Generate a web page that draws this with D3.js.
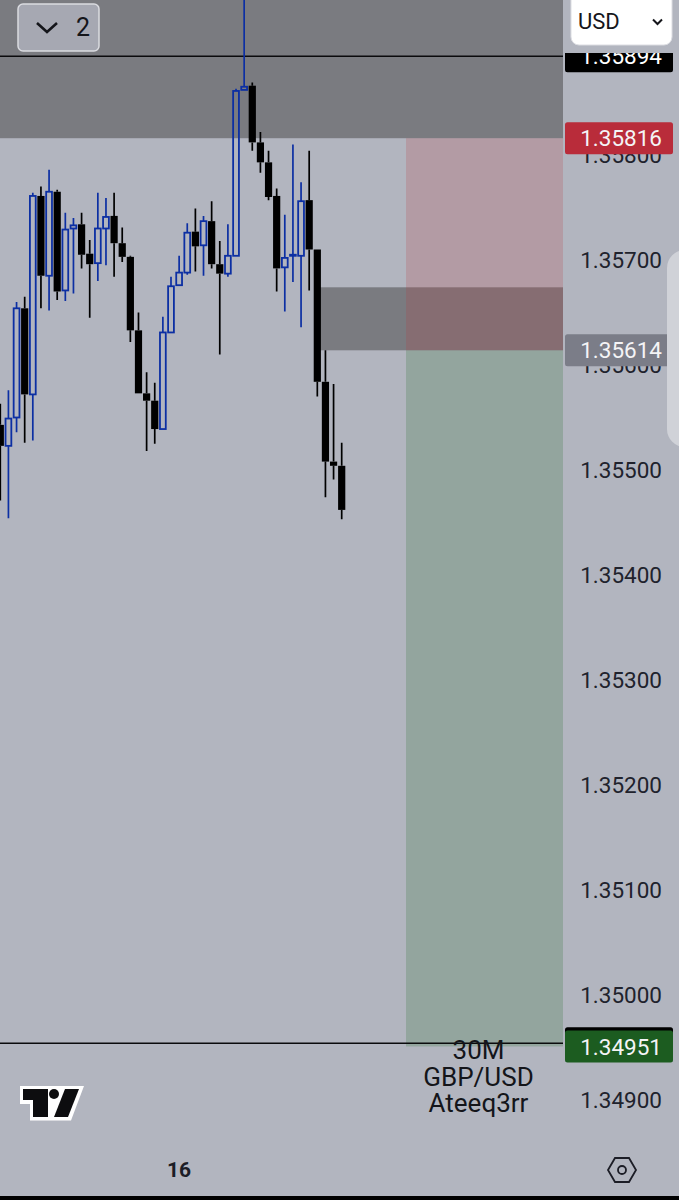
<!DOCTYPE html>
<html><head><meta charset="utf-8">
<script src="https://cdn.jsdelivr.net/npm/d3@7/dist/d3.min.js"></script>
<style>html,body{margin:0;padding:0;background:#b2b5bf}svg{display:block}</style></head>
<body><svg id="c" width="679" height="1200"></svg>
<script>
// Candles: open, high, low, close
const opens=[1.35543,1.35523,1.35550,1.35654,1.35572,1.35761,1.35685,1.35765,1.35671,1.35730,1.35734,1.35706,1.35697,1.35730,1.35742,1.35716,1.35703,1.35633,1.35573,1.35566,1.35539,1.35631,1.35676,1.35688,1.35727,1.35714,1.35737,1.35696,1.35687,1.35704,1.35862,1.35866,1.35812,1.35793,1.35761,1.35693,1.35704,1.35704,1.35757,1.35710,1.35584,1.35508,1.35504];
const highs=[1.35563,1.35576,1.35660,1.35665,1.35764,1.35770,1.35786,1.35767,1.35745,1.35740,1.35745,1.35719,1.35764,1.35759,1.35764,1.35731,1.35704,1.35650,1.35593,1.35583,1.35646,1.35684,1.35704,1.35735,1.35749,1.35742,1.35756,1.35718,1.35734,1.35863,1.35952,1.35869,1.35822,1.35804,1.35768,1.35743,1.35810,1.35774,1.35804,1.35710,1.35614,1.35582,1.35526];
const lows=[1.35471,1.35454,1.35536,1.35526,1.35528,1.35654,1.35652,1.35662,1.35661,1.35668,1.35692,1.35645,1.35680,1.35695,1.35684,1.35698,1.35622,1.35573,1.35518,1.35525,1.35539,1.35631,1.35676,1.35686,1.35689,1.35685,1.35692,1.35610,1.35684,1.35704,1.35862,1.35804,1.35783,1.35757,1.35670,1.35651,1.35679,1.35636,1.35671,1.35570,1.35474,1.35491,1.35453];
const closes=[1.35523,1.35549,1.35654,1.35572,1.35761,1.35685,1.35765,1.35670,1.35729,1.35733,1.35705,1.35696,1.35730,1.35741,1.35716,1.35703,1.35633,1.35573,1.35566,1.35539,1.35631,1.35675,1.35688,1.35726,1.35713,1.35737,1.35696,1.35687,1.35704,1.35861,1.35865,1.35812,1.35793,1.35760,1.35692,1.35702,1.35705,1.35756,1.35710,1.35584,1.35508,1.35504,1.35462];
const axisTicks=[1.358,1.357,1.356,1.355,1.354,1.353,1.352,1.351,1.350,1.349];
const sessionLabel="16", sessionIndex=22;
const overlayLines=["30M","GBP/USD","Ateeq3rr"];
const priceTags=[
 {v:1.35894,fill:"#000000",text:"#ffffff"},
 {v:1.35816,fill:"#b92c3a",text:"#f4f4f6"},
 {v:1.35614,fill:"#7b7d88",text:"#f4f4f6"},
 {v:1.34951,fill:"#1c5c20",text:"#f4f4f6"}];
const levelLines=[1.35894,1.34954];
const hiddenTag=1.34954;
const zoneTop=1.35816, zoneMid=[1.35614,1.35674];
const stopZone=[1.35614,1.35816], targetZone=[1.34951,1.35614];
</script>
<script>
const BG="#b2b5bf",W=563,FONT="Roboto, sans-serif";
const svg=d3.select("#c");
const y=d3.scaleLinear().domain([1.357,1.349]).range([260,1100]);
const x=d3.scaleLinear().domain([0,42]).range([0.3,341.7]);
const n=opens.length;
svg.append("rect").attr("width",679).attr("height",1200).attr("fill",BG);

// grey zones
svg.append("rect").attr("x",0).attr("y",0).attr("width",W).attr("height",y(zoneTop)).attr("fill","#7a7b80");
svg.append("rect").attr("x",318).attr("y",y(zoneMid[1])).attr("width",W-318).attr("height",y(zoneMid[0])-y(zoneMid[1])).attr("fill","#7a7b80");
// risk / reward
const RX=406;
svg.append("rect").attr("x",RX).attr("y",y(stopZone[1])).attr("width",W-RX).attr("height",y(stopZone[0])-y(stopZone[1])).attr("fill","#b7373c").attr("opacity",0.2);
svg.append("rect").attr("x",RX).attr("y",y(targetZone[1])).attr("width",W-RX).attr("height",y(targetZone[0])-y(targetZone[1])).attr("fill","#19691e").attr("opacity",0.2);

// level lines
svg.selectAll("line.level").data(levelLines).join("line").attr("class","level")
 .attr("x1",0).attr("x2",W).attr("y1",d=>y(d)).attr("y2",d=>y(d)).attr("stroke","#0a0a0c").attr("stroke-width",1.6);

// candles
const BLUE="#0c2fa3";
const idx=d3.range(n);
const up=i=>closes[i]>=opens[i];
const bt=i=>y(Math.max(opens[i],closes[i])), bb=i=>y(Math.min(opens[i],closes[i]));
svg.append("g").selectAll("path").data(idx).join("path")
 .attr("d",i=>`M${x(i)} ${y(highs[i])}V${bt(i)}M${x(i)} ${bb(i)}V${y(lows[i])}`)
 .attr("fill","none").attr("stroke",i=>up(i)?BLUE:"#000").attr("stroke-width",1.7);
svg.append("g").selectAll("rect").data(idx).join("rect")
 .attr("x",i=>x(i)-(up(i)?2.9:3.6))
 .attr("width",i=>up(i)?5.8:7.2)
 .attr("y",bt)
 .attr("height",i=>Math.max(1,bb(i)-bt(i)))
 .attr("fill",i=>up(i)?"none":"#000")
 .attr("stroke",i=>up(i)?BLUE:"none").attr("stroke-width",1.8);

// axis panel
const axis=d3.axisRight(y).tickValues(axisTicks).tickSize(0).tickPadding(0).tickFormat(d3.format(".5f"));
const gA=svg.append("g").attr("transform","translate(662,0)").call(axis);
gA.select(".domain").remove();
gA.selectAll("text").attr("x",0).attr("text-anchor","end").attr("dy","0.35em")
 .attr("font-family",FONT).attr("font-size",22.5).attr("fill","#20222c");

// tag hidden behind the green one
svg.append("rect").attr("x",565).attr("width",108).attr("height",32).attr("y",y(hiddenTag)-16).attr("rx",2.5).attr("fill","#000");
// price tags
const tags=svg.append("g").selectAll("g").data(priceTags).join("g");
tags.append("rect").attr("x",565).attr("width",108).attr("height",32).attr("y",d=>y(d.v)-16).attr("rx",2.5).attr("fill",d=>d.fill);
tags.append("text").attr("x",662).attr("y",d=>y(d.v)).attr("dy","0.36em").attr("text-anchor","end")
 .attr("font-family",FONT).attr("font-size",22.5).attr("fill",d=>d.text).text(d=>d.v.toFixed(5));

// overlay text
svg.append("g").selectAll("text").data(overlayLines).join("text")
 .attr("x",478.5).attr("y",(d,i)=>1059+i*26.5).attr("text-anchor","middle")
 .attr("font-family",FONT).attr("font-size",26).attr("fill","#14151a").text(d=>d);

// top right cover and USD select
svg.append("rect").attr("x",563.5).attr("y",0).attr("width",116).attr("height",53).attr("fill",BG);
svg.append("rect").attr("x",571).attr("y",-8).attr("width",101).attr("height",53).attr("rx",8).attr("fill","#fff").attr("stroke","#dcdde2");
svg.append("text").attr("x",578).attr("y",29).attr("font-family",FONT).attr("font-size",22).attr("fill","#15161b").text("USD");
svg.append("path").attr("d","M653 19.5l4.5 4.5 4.5-4.5").attr("fill","none").attr("stroke","#15161b").attr("stroke-width",2);

// collapse button
svg.append("rect").attr("x",18).attr("y",4).attr("width",81).attr("height",47).attr("rx",5).attr("fill","#a6a8b2").attr("stroke","#dadbe0").attr("stroke-width",1.5);
svg.append("path").attr("d","M37 23l10 9 10-9").attr("fill","none").attr("stroke","#14151a").attr("stroke-width",2.6);
svg.append("text").attr("x",76).attr("y",36).attr("font-family",FONT).attr("font-size",25).attr("fill","#14151a").text("2");

// side handle
svg.append("rect").attr("x",667).attr("y",250).attr("width",40).attr("height",197).attr("rx",18).attr("fill","#d0d2d8");

// TradingView logo
svg.append("path").attr("d","M20 1086H84L71 1120.5H30V1104H20Z").attr("fill","#fff");
svg.append("path").attr("d","M23 1089H48V1117H33V1100H23Z").attr("fill","#0d0d0f");
svg.append("circle").attr("cx",54).attr("cy",1094).attr("r",5).attr("fill","#0d0d0f");
svg.append("path").attr("d","M65 1089H79L68 1117H54Z").attr("fill","#0d0d0f");

// time label
svg.append("text").attr("x",x(sessionIndex)).attr("y",1177).attr("text-anchor","middle").attr("font-family",FONT).attr("font-weight",700).attr("font-size",21).attr("fill","#1c1d26").text(sessionLabel);

// settings hexagon
svg.append("path").attr("d","M615 1158H629L636 1170L629 1182H615L608 1170Z").attr("fill","none").attr("stroke","#1c1d26").attr("stroke-width",1.8);
svg.append("circle").attr("cx",622).attr("cy",1170).attr("r",4).attr("fill","none").attr("stroke","#1c1d26").attr("stroke-width",1.8);

// bottom strip
svg.append("rect").attr("x",0).attr("y",1196).attr("width",679).attr("height",4).attr("fill","#000");
</script></body></html>
